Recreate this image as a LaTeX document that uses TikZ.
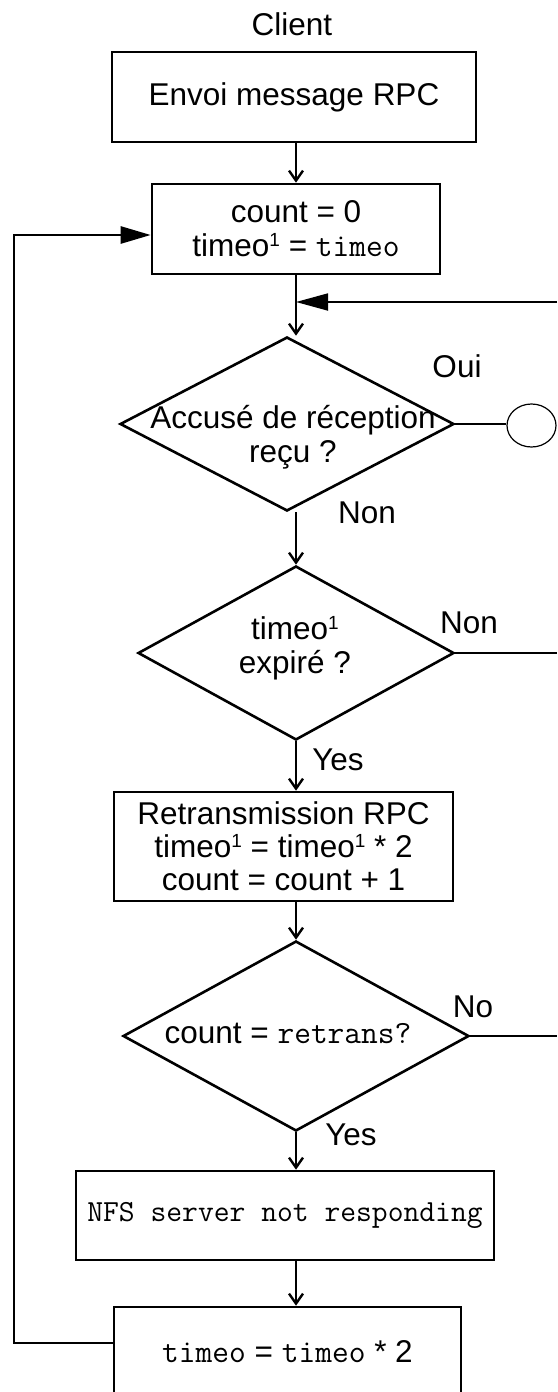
\documentclass[tikz,border=0pt]{standalone}
\usepackage{fontspec}
\setmainfont{Liberation Sans}
\usetikzlibrary{shapes.geometric,arrows.meta}
% monospace identifiers (Latin Modern Mono) and the small raised index
\newcommand\codetxt[1]{{\fontsize{32.5}{34}\selectfont\ttfamily #1}}
\newcommand\supa{\raisebox{10pt}{\fontsize{19}{19}\selectfont 1}}
\begin{document}
\begin{tikzpicture}[x=1pt,y=-1pt,
  every node/.style={font=\fontsize{31.5}{34}\selectfont},
  box/.style={draw,line width=2.6pt,inner sep=0pt,align=center},
  decision/.style={draw,diamond,line width=2.6pt,inner sep=0pt},
  lbl/.style={inner sep=0pt,align=center},
  flow/.style={line width=2.4pt,-{Straight Barb[length=10pt,width=14pt,line width=2.4pt]}},
  back/.style={line width=2.6pt,-{Triangle[length=30pt,width=17pt]}},
  thin/.style={line width=1.2pt}]
\useasboundingbox (0,0) rectangle (557,1392);
\clip (0,0) rectangle (557,1392);

% title
\node[lbl,anchor=base] (title) at (292,35) {Client};

% process boxes
\node[box,minimum width=364pt,minimum height=90pt] (b1) at (294,97) {Envoi message RPC};
\node[box,minimum width=288pt,minimum height=90pt] (b2) at (296,229)
  {count = 0\\timeo\supa{} = \codetxt{timeo}};
\node[box,minimum width=339pt,minimum height=109pt,font=\fontsize{31.5}{33}\selectfont] (b3) at (283.5,846.5)
  {Retransmission RPC\\timeo\supa{} = timeo\supa{} * 2\\count = count + 1};
\node[box,minimum width=418pt,minimum height=89pt] (b4) at (285,1215.5)
  {{\fontsize{30.7}{34}\selectfont\ttfamily NFS server not responding}};
\node[box,minimum width=347pt,minimum height=90pt] (b5) at (287.5,1352)
  {\codetxt{timeo} = \codetxt{timeo} * 2};

% decisions
\node[decision,minimum width=334pt,minimum height=174pt] (d1) at (287,424) {};
\node[lbl] (d1t) at (293,437) {Accusé de réception\\reçu ?};
\node[decision,minimum width=316pt,minimum height=174pt] (d2) at (296,653) {};
\node[lbl] (d2t) at (295,648) {timeo\supa\\expiré ?};
\node[decision,minimum width=346pt,minimum height=190pt] (d3) at (296,1036) {};
\node[lbl] (d3t) at (288,1033) {count = \codetxt{retrans?}};

% connector on the accepted branch
\node[draw,ellipse,line width=1.2pt,minimum width=49pt,minimum height=43pt,inner sep=0pt] (c1) at (531.5,425.5) {};

% branch labels
\node[lbl,anchor=base] (oui) at (457,377) {Oui};
\node[lbl,anchor=base] (non1) at (367,523) {Non};
\node[lbl,anchor=base] (non2) at (469,633) {Non};
\node[lbl,anchor=base] (yes1) at (338,770) {Yes};
\node[lbl,anchor=base] (no3) at (473,1017) {No};
\node[lbl,anchor=base] (yes3) at (351,1145) {Yes};

% helper points
\coordinate (j1) at (296,302);
\coordinate (e1) at (557,302);
\coordinate (e2) at (557,653);
\coordinate (e3) at (557,1036);
\coordinate (l1) at (14,1343);
\coordinate (l2) at (14,235);

% main flow
\draw[flow] (b1.south -| b2.north) -- (b2.north);
\draw[flow] (b2.south) -- (b2.south |- d1.north);
\draw[flow] (d1.south -| d2.north) -- (d2.north);
\draw[flow] (d2.south) -- (d2.south |- b3.north);
\draw[flow] (b3.south -| d3.north) -- (d3.north);
\draw[flow] (d3.south) -- (d3.south |- b4.north);
\draw[flow] (b4.south -| d3.south) -- (b5.north -| d3.south);

% side branches
\draw[line width=1.8pt,-{Triangle[length=32pt,width=17pt]}] (e1) -- (j1);
\draw[thin] (d1.east) -- (d1.east -| c1.west);
\draw[line width=1.5pt] (d2.east) -- (e2);
\draw[line width=2.4pt] (d3.east) -- (e3);

% loop back to the initialisation
\draw[back] (b5.west |- l1) -- (l1) -- (l2) -- (b2.west |- l2);
\end{tikzpicture}
\end{document}
